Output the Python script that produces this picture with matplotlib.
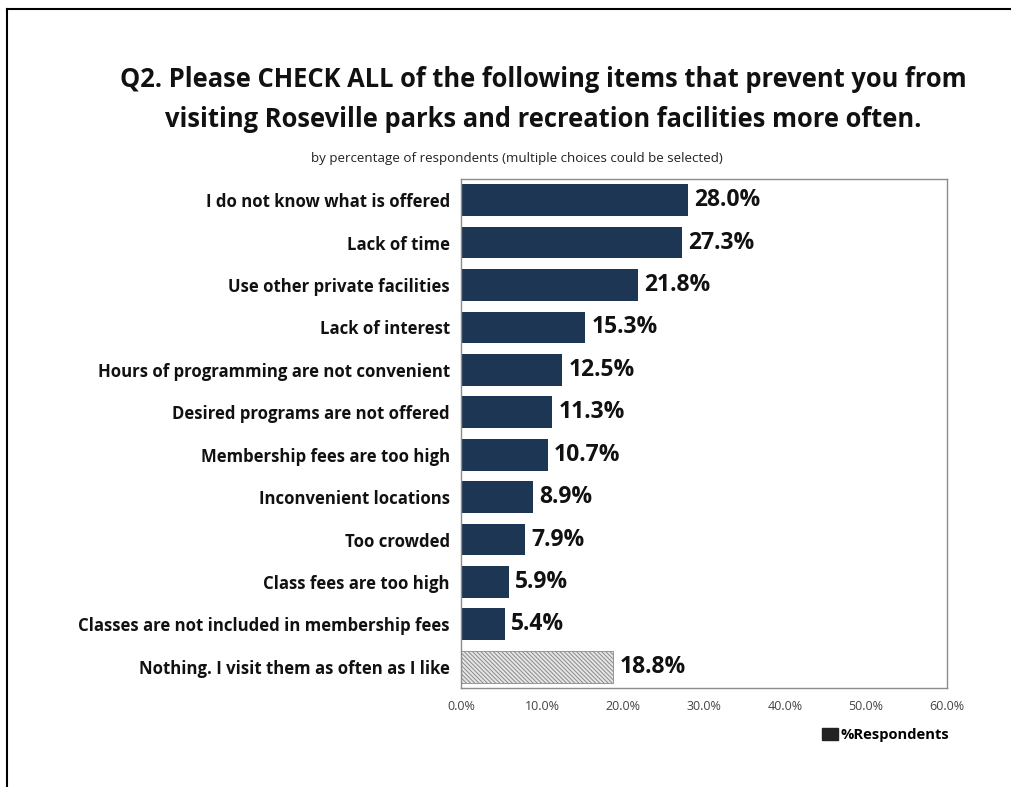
import numpy as np
import matplotlib as mpl

mpl.use('agg')

import matplotlib.pyplot as plt
from matplotlib.patches import Patch

# survey answers, top to bottom
items = [
    'I do not know what is offered',
    'Lack of time',
    'Use other private facilities',
    'Lack of interest',
    'Hours of programming are not convenient',
    'Desired programs are not offered',
    'Membership fees are too high',
    'Inconvenient locations',
    'Too crowded',
    'Class fees are too high',
    'Classes are not included in membership fees',
    'Nothing. I visit them as often as I like',
]
pct = [28.0, 27.3, 21.8, 15.3, 12.5, 11.3, 10.7, 8.9, 7.9, 5.9, 5.4, 18.8]
xticks = [0, 10, 20, 30, 40, 50, 60]

navy = '#1d3654'
plt.rcParams['font.family'] = ['Open Sans', 'DejaVu Sans']
plt.rcParams['hatch.color'] = '#7a7a7a'
plt.rcParams['hatch.linewidth'] = 0.7

fig = plt.figure(figsize=(10.12, 7.87), dpi=100)
ax = fig.add_axes([0.4555, 0.1258, 0.4802, 0.6468])

y = np.arange(len(items))
n = len(items)
colors = [navy] * (n - 1) + ['#e6e6e6']
bars = ax.barh(y, pct, height=0.75, color=colors)
bars[-1].set_hatch('\\\\\\\\\\\\\\\\')
bars[-1].set_edgecolor('#8a8a8a')
bars[-1].set_linewidth(0.6)

for yi, v in zip(y, pct):
    ax.text(v + 0.8, yi, f'{v:.1f}%', va='center', ha='left',
            fontsize=16.5, fontweight='bold', color='#111111')

ax.set_xlim(0, 60)
ax.set_ylim(n - 0.5, -0.5)
ax.set_yticks(y)
ax.set_yticklabels(items, fontsize=12.1, fontweight='bold', color='#111111')
ax.set_xticks(xticks)
ax.set_xticklabels([f'{t:.1f}%' for t in xticks], fontsize=9, color='#444444')
ax.tick_params(axis='both', length=0)
ax.tick_params(axis='y', pad=8)
ax.tick_params(axis='x', pad=9)
for s in ax.spines.values():
    s.set_color('#8c8c8c')
    s.set_linewidth(1.0)

fig.text(0.537, 0.899, 'Q2. Please CHECK ALL of the following items that prevent you from',
         ha='center', va='center', fontsize=18.4, fontweight='bold', color='#111111')
fig.text(0.537, 0.848, 'visiting Roseville parks and recreation facilities more often.',
         ha='center', va='center', fontsize=18.4, fontweight='bold', color='#111111')
fig.text(0.511, 0.799, 'by percentage of respondents (multiple choices could be selected)',
         ha='center', va='center', fontsize=9.6, color='#222222')

leg = fig.legend(handles=[Patch(color='#222222', label='%Respondents')],
                 loc='center', bbox_to_anchor=(0.875, 0.066), frameon=False,
                 handlelength=1.1, handleheight=0.9, handletextpad=0.2,
                 prop={'weight': 'bold', 'size': 10.6})

# outer frame: top and left edges
fig.add_artist(plt.Line2D([0.007, 1.0], [0.989, 0.989], color='black', lw=1.5,
                          transform=fig.transFigure))
fig.add_artist(plt.Line2D([0.007, 0.007], [0.0, 0.989], color='black', lw=1.5,
                          transform=fig.transFigure))

fig.savefig('out.png', dpi=100)
